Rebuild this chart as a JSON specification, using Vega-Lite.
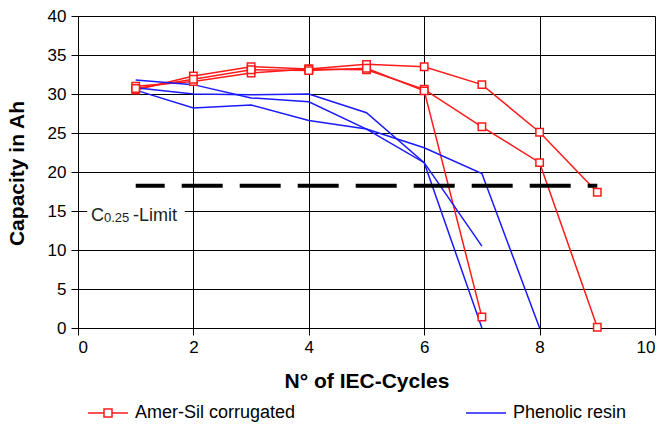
{
  "$schema": "https://vega.github.io/schema/vega-lite/v6.json",
  "autosize": {"type": "none"},
  "padding": {"left": 78, "top": 16, "right": 9, "bottom": 99},
  "width": 577,
  "height": 312,
  "background": "white",
  "config": {
    "view": {"stroke": null},
    "axis": {
      "labelFont": "Liberation Sans", "titleFont": "Liberation Sans",
      "labelColor": "#000", "titleColor": "#000",
      "labelFontSize": 17, "titleFontSize": 21, "titleFontWeight": "bold",
      "gridColor": "#000", "gridOpacity": 1, "gridWidth": 1,
      "domainColor": "#000", "domainWidth": 1,
      "tickColor": "#000", "tickSize": 7, "tickWidth": 1
    }
  },
  "datasets": {
    "cycles": [
      {"series": "A1", "material": "Amer-Sil corrugated", "cycle": 1, "capacity": 30.5},
      {"series": "A1", "material": "Amer-Sil corrugated", "cycle": 2, "capacity": 32.3},
      {"series": "A1", "material": "Amer-Sil corrugated", "cycle": 3, "capacity": 33.5},
      {"series": "A1", "material": "Amer-Sil corrugated", "cycle": 4, "capacity": 33.2},
      {"series": "A1", "material": "Amer-Sil corrugated", "cycle": 5, "capacity": 33.8},
      {"series": "A1", "material": "Amer-Sil corrugated", "cycle": 6, "capacity": 33.5},
      {"series": "A1", "material": "Amer-Sil corrugated", "cycle": 7, "capacity": 31.2},
      {"series": "A1", "material": "Amer-Sil corrugated", "cycle": 8, "capacity": 25.1},
      {"series": "A1", "material": "Amer-Sil corrugated", "cycle": 9, "capacity": 17.4},
      {"series": "A2", "material": "Amer-Sil corrugated", "cycle": 1, "capacity": 31.0},
      {"series": "A2", "material": "Amer-Sil corrugated", "cycle": 2, "capacity": 31.6},
      {"series": "A2", "material": "Amer-Sil corrugated", "cycle": 3, "capacity": 32.7},
      {"series": "A2", "material": "Amer-Sil corrugated", "cycle": 4, "capacity": 33.2},
      {"series": "A2", "material": "Amer-Sil corrugated", "cycle": 5, "capacity": 33.1},
      {"series": "A2", "material": "Amer-Sil corrugated", "cycle": 6, "capacity": 30.6},
      {"series": "A2", "material": "Amer-Sil corrugated", "cycle": 7, "capacity": 25.8},
      {"series": "A2", "material": "Amer-Sil corrugated", "cycle": 8, "capacity": 21.2},
      {"series": "A2", "material": "Amer-Sil corrugated", "cycle": 9, "capacity": 0.1},
      {"series": "A3", "material": "Amer-Sil corrugated", "cycle": 1, "capacity": 30.7},
      {"series": "A3", "material": "Amer-Sil corrugated", "cycle": 2, "capacity": 31.9},
      {"series": "A3", "material": "Amer-Sil corrugated", "cycle": 3, "capacity": 33.1},
      {"series": "A3", "material": "Amer-Sil corrugated", "cycle": 4, "capacity": 33.0},
      {"series": "A3", "material": "Amer-Sil corrugated", "cycle": 5, "capacity": 33.3},
      {"series": "A3", "material": "Amer-Sil corrugated", "cycle": 6, "capacity": 30.4},
      {"series": "A3", "material": "Amer-Sil corrugated", "cycle": 7, "capacity": 1.4},
      {"series": "P1", "material": "Phenolic resin", "cycle": 1, "capacity": 31.8},
      {"series": "P1", "material": "Phenolic resin", "cycle": 2, "capacity": 31.2},
      {"series": "P1", "material": "Phenolic resin", "cycle": 3, "capacity": 29.5},
      {"series": "P1", "material": "Phenolic resin", "cycle": 4, "capacity": 29.0},
      {"series": "P1", "material": "Phenolic resin", "cycle": 5, "capacity": 25.5},
      {"series": "P1", "material": "Phenolic resin", "cycle": 6, "capacity": 21.2},
      {"series": "P1", "material": "Phenolic resin", "cycle": 7, "capacity": 0.0},
      {"series": "P2", "material": "Phenolic resin", "cycle": 1, "capacity": 30.8},
      {"series": "P2", "material": "Phenolic resin", "cycle": 2, "capacity": 30.0},
      {"series": "P2", "material": "Phenolic resin", "cycle": 3, "capacity": 29.9},
      {"series": "P2", "material": "Phenolic resin", "cycle": 4, "capacity": 30.0},
      {"series": "P2", "material": "Phenolic resin", "cycle": 5, "capacity": 27.6},
      {"series": "P2", "material": "Phenolic resin", "cycle": 6, "capacity": 21.2},
      {"series": "P2", "material": "Phenolic resin", "cycle": 7, "capacity": 10.5},
      {"series": "P3", "material": "Phenolic resin", "cycle": 1, "capacity": 30.5},
      {"series": "P3", "material": "Phenolic resin", "cycle": 2, "capacity": 28.2},
      {"series": "P3", "material": "Phenolic resin", "cycle": 3, "capacity": 28.6},
      {"series": "P3", "material": "Phenolic resin", "cycle": 4, "capacity": 26.6},
      {"series": "P3", "material": "Phenolic resin", "cycle": 5, "capacity": 25.5},
      {"series": "P3", "material": "Phenolic resin", "cycle": 6, "capacity": 23.1},
      {"series": "P3", "material": "Phenolic resin", "cycle": 7, "capacity": 19.8},
      {"series": "P3", "material": "Phenolic resin", "cycle": 8, "capacity": 0.0}
    ],
    "limit": [
      {"cycle": 1, "cycle_end": 9, "capacity": 18.25}
    ],
    "label_box": [
      {"cycle": 0.16, "cycle_end": 1.85, "capacity": 13.9, "capacity_end": 16.1}
    ],
    "label_main": [
      {"text": "C", "cycle": 0.225, "capacity": 13.72},
      {"text": "-Limit", "cycle": 0.955, "capacity": 13.72}
    ],
    "label_sub": [
      {"text": "0.25", "cycle": 0.45, "capacity": 13.6}
    ]
  },
  "encoding": {
    "x": {
      "field": "cycle", "type": "quantitative",
      "scale": {"domain": [0, 10], "nice": false},
      "axis": {"values": [0, 2, 4, 6, 8, 10], "title": "N° of IEC-Cycles", "labelPadding": 4, "titleY": 53, "titleBaseline": "middle"}
    },
    "y": {
      "field": "capacity", "type": "quantitative",
      "scale": {"domain": [0, 40], "nice": false},
      "axis": {"values": [0, 5, 10, 15, 20, 25, 30, 35, 40], "title": "Capacity in Ah", "labelPadding": 5, "titleX": -51, "titleY": 157}
    }
  },
  "layer": [
    {
      "data": {"name": "label_box"},
      "mark": {"type": "rect", "fill": "white", "stroke": null},
      "encoding": {
        "x2": {"field": "cycle_end"},
        "y2": {"field": "capacity_end"}
      }
    },
    {
      "data": {"name": "cycles"},
      "mark": {"type": "line", "strokeWidth": 1.5},
      "encoding": {
        "detail": {"field": "series"},
        "order": {"field": "cycle"},
        "color": {
          "field": "material", "type": "nominal",
          "scale": {"domain": ["Amer-Sil corrugated", "Phenolic resin"], "range": ["#ff1a1a", "#1a1aff"]},
          "legend": {
            "orient": "none", "legendX": 9, "legendY": 376, "direction": "horizontal",
            "title": null, "padding": 0,
            "symbolSize": 1600, "symbolStrokeWidth": 1.5,
            "symbolType": "M-1,0H-0.2M0.2,0H1M-0.2,-0.2H0.2V0.2H-0.2Z",
            "labelFont": "Liberation Sans", "labelFontSize": 18, "labelColor": "#000",
            "labelOffset": 6, "labelLimit": 400, "columnPadding": 167,
            "encode": {
              "symbols": {
                "update": {
                  "shape": {"signal": "datum.value === 'Amer-Sil corrugated' ? 'M-1,0H-0.2M0.2,0H1M-0.2,-0.2H0.2V0.2H-0.2Z' : 'M-1,0H1'"},
                  "fill": {"value": "white"}
                }
              }
            }
          }
        }
      }
    },
    {
      "data": {"name": "limit"},
      "mark": {"type": "rule", "color": "#000", "strokeWidth": 4, "strokeDash": [41, 17], "strokeDashOffset": 12, "strokeCap": "butt"},
      "encoding": {
        "x2": {"field": "cycle_end"}
      }
    },
    {
      "data": {"name": "cycles"},
      "transform": [{"filter": "datum.material === 'Amer-Sil corrugated'"}],
      "mark": {"type": "point", "shape": "square", "size": 55, "filled": true, "fill": "white", "stroke": "#ff1a1a", "strokeWidth": 1.5, "opacity": 1}
    },
    {
      "data": {"name": "label_main"},
      "mark": {"type": "text", "align": "left", "baseline": "alphabetic", "font": "Liberation Sans", "fontSize": 18, "color": "#222"},
      "encoding": {"text": {"field": "text"}}
    },
    {
      "data": {"name": "label_sub"},
      "mark": {"type": "text", "align": "left", "baseline": "alphabetic", "font": "Liberation Sans", "fontSize": 13, "color": "#222"},
      "encoding": {"text": {"field": "text"}}
    }
  ]
}
